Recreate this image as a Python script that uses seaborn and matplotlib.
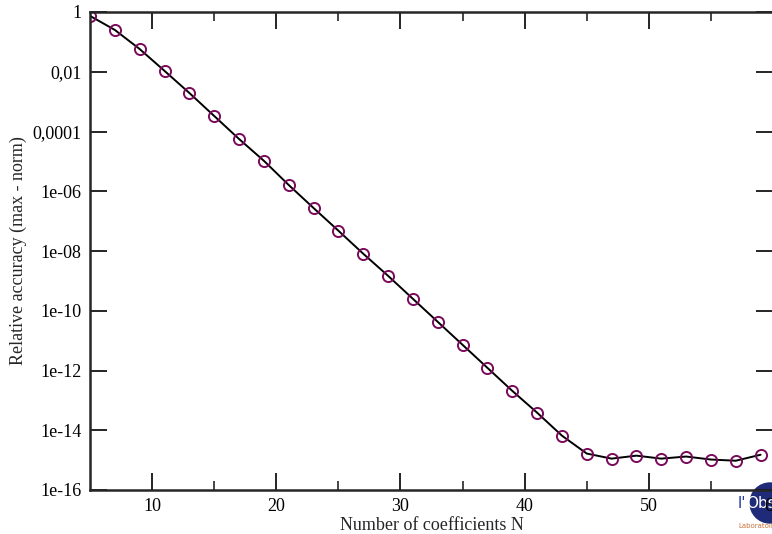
import numpy as np
import pandas as pd
import matplotlib
matplotlib.use("Agg")
import matplotlib.pyplot as plt
import seaborn as sns
from matplotlib.patches import Circle

# data
n_coeffs = [5, 7, 9, 11, 13, 15, 17, 19, 21, 23, 25, 27, 29, 31, 33, 35, 37, 39,
            41, 43, 45, 47, 49, 51, 53, 55, 57, 59]
log_acc = [-0.13, -0.60, -1.24, -1.97, -2.71, -3.48, -4.25, -4.98, -5.79, -6.56,
           -7.32, -8.09, -8.83, -9.60, -10.37, -11.14, -11.91, -12.68, -13.41,
           -14.18, -14.78, -14.95, -14.85, -14.95, -14.88, -14.98, -15.02, -14.82]
accuracy = [10 ** v for v in log_acc]
y_ticks = [1, 1e-2, 1e-4, 1e-6, 1e-8, 1e-10, 1e-12, 1e-14, 1e-16]
y_tick_labels = ["1", "0,01", "0,0001", "1e-06", "1e-08", "1e-10", "1e-12", "1e-14", "1e-16"]
x_ticks = [10, 20, 30, 40, 50, 60]
x_minor_ticks = [15, 25, 35, 45, 55]

df = pd.DataFrame({"N": n_coeffs, "acc": accuracy})

sns.set_style("ticks")
plt.rcParams["font.family"] = ["Liberation Serif", "DejaVu Serif"]

fig = plt.figure(figsize=(7.72, 5.34), dpi=100)
ax = fig.add_axes([90 / 772, 1 - 490 / 534, 683 / 772, 478 / 534])
ax.patch.set_alpha(0)

sns.lineplot(data=df, x="N", y="acc", ax=ax, color="black", linewidth=1.4,
             marker="o", markersize=8, markerfacecolor="none",
             markeredgecolor="#7a0a5a", markeredgewidth=1.4)

ax.set_yscale("log")
ax.set_xlim(5, 60)
ax.set_ylim(1e-16, 1)
ax.set_yticks(y_ticks)
ax.set_yticklabels(y_tick_labels)
ax.yaxis.set_minor_locator(matplotlib.ticker.NullLocator())
ax.set_xticks(x_ticks)
ax.set_xticks(x_minor_ticks, minor=True)

for s in ax.spines.values():
    s.set_linewidth(1.8)
    s.set_visible(True)
ax.tick_params(which="major", direction="in", length=12, width=1.2,
               top=True, right=True, labelsize=13, pad=6, colors="black")
ax.tick_params(which="minor", direction="in", length=6.5, width=1.2,
               top=True, right=True)

ax.set_xlabel("Number of coefficients N", fontsize=13, labelpad=1)
ax.set_ylabel("Relative accuracy (max - norm)", fontsize=13, labelpad=4)

# logo watermark (pixel-based placement), drawn behind the axes
fig.patches.append(Circle((7.70, (534 - 503) / 100), 0.20, transform=fig.dpi_scale_trans,
                          color="#1f2a78", zorder=-1))
fig.text(738 / 772, 1 - 503 / 534, "l'", color="#2a3a9a", fontsize=11,
         ha="left", va="center", family="DejaVu Sans", zorder=-0.5)
fig.text(746 / 772, 1 - 503 / 534, "Obs", color="white", fontsize=11,
         ha="left", va="center", family="DejaVu Sans", zorder=-0.5)
fig.text(738 / 772, 1 - 526 / 534, "Laboratoire", color="#c8703a", fontsize=5,
         ha="left", va="center", family="DejaVu Sans")

fig.savefig("out.png", dpi=100)
